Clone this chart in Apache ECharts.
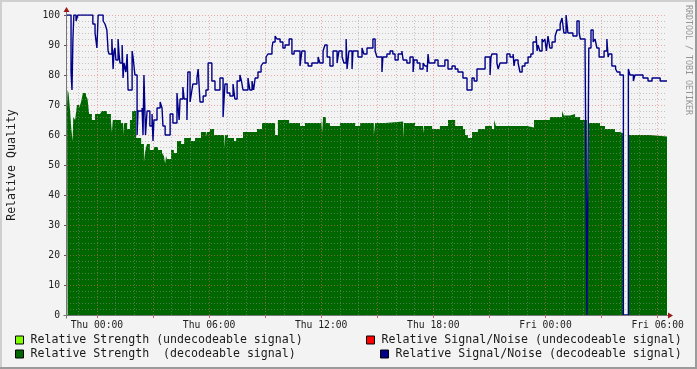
<!DOCTYPE html>
<html><head><meta charset="utf-8">
<script src="https://cdn.jsdelivr.net/npm/echarts@6/dist/echarts.min.js"></script>
<style>html,body{margin:0;padding:0;background:#f3f3f3}#c{width:697px;height:369px}</style>
</head><body><div id="c"></div>
<script>
const MONO = 'DejaVu Sans Mono';
// time axis in minutes relative to Thu 00:00
const xMin = -96, xMax = 1830;
const tickValues = [0, 360, 720, 1080, 1440, 1800];
const tickLabels = ['Thu 00:00', 'Thu 06:00', 'Thu 12:00', 'Thu 18:00', 'Fri 00:00', 'Fri 06:00'];

const seriesNames = [
  'Relative Strength (undecodeable signal)',
  'Relative Strength  (decodeable signal)',
  'Relative Signal/Noise (undecodeable signal)',
  'Relative Signal/Noise (decodeable signal)'
];
const seriesColors = ['#80ff00', '#006600', '#ff0000', '#000088'];

// Relative Signal/Noise (decodeable) — step samples
const snrTimes = [-96,-83,-80,-77,-74,-67,-61,-13,-6,0,4,20,26,32,36,39,48,52,55,58,61,68,71,74,81,84,87,93,97,100,113,116,122,129,132,145,148,151,156,161,170,177,180,183,193,203,209,212,219,235,244,257,260,264,267,276,280,289,292,299,305,308,321,325,331,341,350,357,369,379,395,405,411,418,427,437,443,450,459,464,469,485,491,498,503,508,517,527,533,543,549,562,565,572,578,588,597,604,617,626,633,652,658,668,678,690,710,716,726,732,739,748,758,771,777,787,793,800,803,809,819,822,838,851,857,867,886,893,899,915,918,931,941,950,957,967,979,983,995,1005,1015,1018,1028,1037,1047,1053,1060,1063,1066,1085,1095,1117,1127,1140,1150,1159,1175,1188,1204,1211,1220,1246,1262,1265,1268,1284,1288,1294,1316,1326,1336,1339,1342,1352,1358,1365,1374,1384,1393,1400,1410,1413,1416,1422,1429,1432,1438,1443,1448,1454,1461,1471,1477,1487,1493,1499,1506,1512,1528,1541,1548,1552,1567,1573,1579,1586,1593,1599,1605,1612,1628,1637,1641,1644,1653,1665,1670,1679,1690,1706,1711,1722,1727,1753,1769,1782,1808,1830];
const snrValues = [100,81,75,92,100,98,100,97,94,89,100,98,97,95,88,87,92,82,88,89,85,92,87,84,90,79,84,81,87,75,88,86,80,60,68,69,60,80,60,68,63,67,58,65,69,71,69,63,60,67,64,74,70,65,72,76,72,65,81,71,75,77,79,82,71,73,75,84,78,75,79,66,77,74,73,77,72,78,80,78,75,79,75,78,75,79,81,83,84,86,87,89,91,93,92,91,89,90,92,87,88,83,88,84,83,84,86,84,88,90,86,83,88,84,88,86,84,92,82,88,82,88,86,89,87,89,92,88,86,81,86,87,88,87,85,87,88,85,84,86,81,85,84,82,84,83,81,87,84,85,83,85,82,83,82,81,79,75,79,78,82,86,80,86,87,84,82,84,87,86,87,83,85,84,81,83,84,86,87,91,93,88,90,88,92,91,92,88,93,89,91,93,95,97,99,94,100,94,93,98,94,92,89,0,89,95,91,92,89,86,88,92,86,87,83,82,81,80,0,82,80,78,80,79,78,79,78,78];

// Relative Strength (decodeable) — step samples
const strTimes = [-96,-94,-91,-86,-82,-78,-76,-70,-64,-57,-51,-45,-35,-30,-25,-16,-6,10,16,32,45,48,51,77,84,87,97,106,113,126,142,151,154,158,161,170,183,196,209,215,219,222,225,238,247,257,270,280,302,315,334,350,353,363,376,408,411,421,440,447,469,514,530,572,581,617,652,668,719,723,726,735,748,780,829,845,889,893,925,983,986,1021,1047,1050,1076,1101,1127,1150,1175,1182,1191,1204,1223,1246,1268,1275,1281,1381,1403,1454,1493,1499,1519,1535,1551,1573,1579,1615,1631,1663,1679,1690,1706,1775,1830];
const strValues = [70,75,74,68,62,58,66,65,70,69,71,74,73,72,67,65,67,67,68,67,65,61,65,64,60,64,62,65,68,59,57,51,54,56,57,55,56,55,54,53,50.5,53,52,55,54,58,57,59,58,59,61,59.5,61,62,60,55.5,60,59,58,59,61,62,64,60,65,64,63,64,66,61,66,64,63,64,63,64,60,64,64.5,59,64,63,60.5,63,62,63,65,63,62,60,59,61,62,63,62,65,63,62.5,65,66,68,66.5,67,66,65,0,64,63,62,61,60.5,0,60,59.5,59.5];

const snrData = snrTimes.map((t, i) => [t, snrValues[i]]);
const strData = strTimes.map((t, i) => [t, strValues[i]]);

// grid lines (RRD style: major every 3h / 10 units, minor every 1h / 2 units)
const MAJ = {color: 'rgba(225,110,110,0.55)', width: 1, type: [1, 2]};
const MIN = {color: 'rgba(150,150,150,0.5)', width: 1, type: [1, 2]};
const gridLines = [];
const majorTimes = [];
for (let m = -60; m <= xMax; m += 60) {
  gridLines.push({xAxis: m, lineStyle: (m % 180 === 0) ? MAJ : MIN});
  if (m % 180 === 0) majorTimes.push(m);
}
for (let v = 2; v <= 100; v += 2) {
  gridLines.push({yAxis: v, lineStyle: (v % 10 === 0) ? MAJ : MIN});
}

const chart = echarts.init(document.getElementById('c'), null, {renderer: 'canvas'});

function legendAt(idx, left, top) {
  return {
    data: [seriesNames[idx]], left: left, top: top, padding: 0,
    icon: 'rect', itemWidth: 8, itemHeight: 8,
    itemStyle: {borderColor: '#000', borderWidth: 1},
    textStyle: {fontFamily: MONO, fontSize: 11.6, color: '#1a1a1a', padding: [0, 0, 0, 2]},
    selectedMode: false
  };
}

chart.setOption({
  animation: false,
  backgroundColor: '#f3f3f3',
  grid: {left: 67, top: 15, width: 600, height: 300},
  xAxis: {
    type: 'value', min: xMin, max: xMax,
    axisLine: {show: false, onZero: false},
    splitLine: {show: false},
    axisTick: {show: true, customValues: majorTimes, length: 3, lineStyle: {color: '#c86464'}},
    axisLabel: {
      customValues: tickValues, margin: 5,
      fontFamily: MONO, fontSize: 9.7, color: '#222',
      formatter: v => tickLabels[tickValues.indexOf(v)] || ''
    }
  },
  yAxis: {
    type: 'value', min: 0, max: 100, interval: 10,
    axisLine: {show: false, onZero: false},
    splitLine: {show: false},
    axisTick: {show: true, length: 3, lineStyle: {color: '#555'}},
    axisLabel: {margin: 7, fontFamily: MONO, fontSize: 9.7, color: '#222'}
  },
  legend: [legendAt(0, 15, 334), legendAt(1, 15, 348), legendAt(2, 366, 334), legendAt(3, 380, 348)],
  series: [
    {name: seriesNames[0], type: 'line', data: [], itemStyle: {color: seriesColors[0]}, showSymbol: false},
    {
      name: seriesNames[1], type: 'line', step: 'end', data: strData, z: 2,
      showSymbol: false, symbol: 'none',
      itemStyle: {color: seriesColors[1]},
      lineStyle: {width: 0, color: seriesColors[1]},
      areaStyle: {color: seriesColors[1], opacity: 1}
    },
    {name: seriesNames[2], type: 'line', data: [], itemStyle: {color: seriesColors[2]}, showSymbol: false},
    {
      name: seriesNames[3], type: 'line', step: 'end', data: snrData, z: 5,
      showSymbol: false, symbol: 'none',
      itemStyle: {color: seriesColors[3]},
      lineStyle: {width: 1.4, color: seriesColors[3]}
    },
    {
      name: 'grid', type: 'line', data: [], z: 3, silent: true,
      markLine: {silent: true, symbol: ['none', 'none'], label: {show: false}, animation: false, data: gridLines}
    }
  ]
});

const p0 = chart.convertToPixel({gridIndex: 0}, [xMin, 0]);
const p1 = chart.convertToPixel({gridIndex: 0}, [xMax, 100]);
const ax = Math.round(p0[0]) - 0.5, ay = Math.round(p0[1]) + 0.5;
const topY = Math.round(p1[1]), rightX = Math.round(p1[0]);
chart.setOption({
  graphic: [
    {type: 'rect', shape: {x: 0, y: 0, width: 697, height: 2}, style: {fill: '#cfcfcf'}, silent: true},
    {type: 'rect', shape: {x: 0, y: 0, width: 2, height: 369}, style: {fill: '#cfcfcf'}, silent: true},
    {type: 'rect', shape: {x: 695, y: 0, width: 2, height: 369}, style: {fill: '#9b9b9b'}, silent: true},
    {type: 'rect', shape: {x: 0, y: 367, width: 697, height: 2}, style: {fill: '#9b9b9b'}, silent: true},
    {type: 'line', shape: {x1: ax, y1: ay + 3, x2: ax, y2: topY - 3}, style: {stroke: '#777', lineWidth: 1}, z: 10, silent: true},
    {type: 'line', shape: {x1: ax - 3, y1: ay, x2: rightX + 2, y2: ay}, style: {stroke: '#777', lineWidth: 1}, z: 10, silent: true},
    {type: 'polygon', shape: {points: [[ax - 3, topY - 3], [ax, topY - 8], [ax + 3, topY - 3]]}, style: {fill: '#9a1a1a'}, z: 10, silent: true},
    {type: 'polygon', shape: {points: [[rightX + 1, ay - 3], [rightX + 6, ay], [rightX + 1, ay + 3]]}, style: {fill: '#9a1a1a'}, z: 10, silent: true},
    {type: 'text', x: 12, y: 165, rotation: Math.PI / 2,
      style: {text: 'Relative Quality', align: 'center', verticalAlign: 'middle', font: '11.6px "DejaVu Sans Mono"', fill: '#1a1a1a'}, silent: true},
    {type: 'text', x: 688, y: 60, rotation: -Math.PI / 2,
      style: {text: 'RRDTOOL / TOBI OETIKER', align: 'center', verticalAlign: 'middle', font: '8.3px "DejaVu Sans Mono"', fill: '#959595'}, silent: true}
  ]
});
</script></body></html>
